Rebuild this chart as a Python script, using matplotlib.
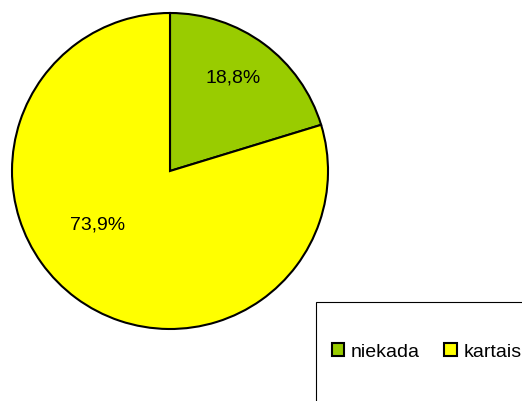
import numpy as np
import matplotlib
matplotlib.use("Agg")
import matplotlib.pyplot as plt
from matplotlib.patches import Rectangle

plt.rcParams['font.family'] = ['Liberation Sans', 'DejaVu Sans']

labels = ['niekada', 'kartais']
values = [18.8, 73.9]
colors = ['#99CC00', '#FFFF00']
pct_labels = ['18,8%', '73,9%']

fig = plt.figure(figsize=(5.22, 4.01), dpi=100)
# pie area: centre approx (170,171) px, radius 158 px
ax = fig.add_axes([12 / 522, 72 / 401, 316 / 522, 316 / 401])

wedges, _ = ax.pie(values, colors=colors, startangle=90, counterclock=False,
                   radius=1, wedgeprops=dict(edgecolor='black', linewidth=1.5))
ax.set_xlim(-1, 1)
ax.set_ylim(-1, 1)
ax.set_aspect('equal')
ax.axis('off')

# percentage labels roughly where the original chart put them
label_pos = [(0.71, 56), (0.57, 216.5)]
for txt, (r, ang) in zip(pct_labels, label_pos):
    a = np.deg2rad(ang)
    ax.text(r * np.cos(a), r * np.sin(a), txt, ha='center', va='center', fontsize=14)

# legend box, partly cut off at the bottom right
fig.patches.append(Rectangle((316 / 522, -0.05), 0.5, (401 - 302) / 401 + 0.05,
                             transform=fig.transFigure, facecolor='white',
                             edgecolor='black', linewidth=0.8))
fig.legend(wedges, labels, loc='center left', bbox_to_anchor=(322 / 522, 1 - 352 / 401),
           ncol=2, frameon=False, fontsize=14, handlelength=0.65, handleheight=0.65,
           handletextpad=0.35, columnspacing=1.25, borderpad=0)

fig.savefig('out.png', dpi=100)
